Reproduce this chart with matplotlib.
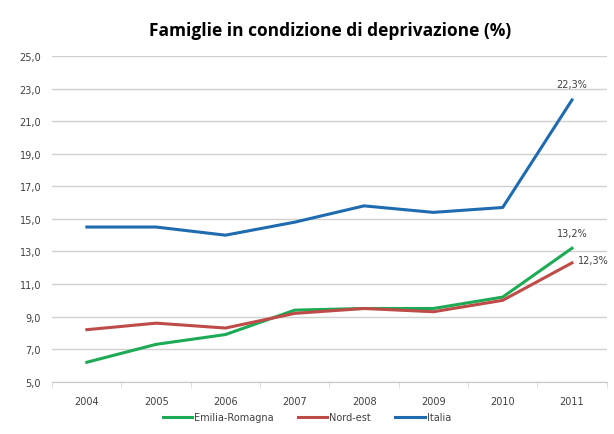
import matplotlib.pyplot as plt
import numpy as np

years = ["2004", "2005", "2006", "2007", "2008", "2009", "2010", "2011"]
emilia = [6.2, 7.3, 7.9, 9.4, 9.5, 9.5, 10.2, 13.2]
nordest = [8.2, 8.6, 8.3, 9.2, 9.5, 9.3, 10.0, 12.3]
italia = [14.5, 14.5, 14.0, 14.8, 15.8, 15.4, 15.7, 22.3]
y_ticks = np.arange(5, 26, 2)

fig = plt.figure(figsize=(6.14, 4.35), dpi=100)
ax = fig.add_axes([0.085, 0.12, 0.903, 0.749])

x = np.arange(len(years))
ax.plot(x, emilia, color="#1DAA55", lw=2.2, label="Emilia-Romagna")
ax.plot(x, nordest, color="#BE4B48", lw=2.2, label="Nord-est")
ax.plot(x, italia, color="#1F6BB0", lw=2.2, label="Italia")

ax.set_xlim(-0.5, len(years) - 0.5)
ax.set_ylim(5, 25)
ax.set_yticks(y_ticks)
ax.set_yticklabels([f"{v:.1f}".replace(".", ",") for v in y_ticks])
ax.set_xticks(x)
ax.set_xticklabels(years)
ax.set_xticks(np.arange(-0.5, len(years), 1), minor=True)
ax.tick_params(axis="x", which="major", length=0, pad=10, labelsize=7, labelcolor="#404040")
ax.tick_params(axis="x", which="minor", length=4, color="#d8d8d8")
ax.tick_params(axis="y", length=0, pad=8, labelsize=7, labelcolor="#404040")
ax.grid(axis="y", color="#d0d0d0", lw=1)
ax.set_axisbelow(True)
for s in ["top", "right", "left"]:
    ax.spines[s].set_visible(False)
ax.spines["bottom"].set_color("#c8c8c8")

last = len(years) - 1
ax.annotate("22,3%", (last, italia[-1]), xytext=(0, 9), textcoords="offset points",
            ha="center", fontsize=7, color="#404040")
ax.annotate("13,2%", (last, emilia[-1]), xytext=(0, 9), textcoords="offset points",
            ha="center", fontsize=7, color="#404040")
ax.annotate("12,3%", (last, nordest[-1]), xytext=(4, 2), textcoords="offset points",
            ha="left", va="center", fontsize=7, color="#404040")

fig.text(0.537, 0.928, "Famiglie in condizione di deprivazione (%)", ha="center", va="center",
         fontsize=12.5, fontweight="bold", family="Open Sans")
fig.legend(loc="center", bbox_to_anchor=(0.5, 0.038), ncol=3, frameon=False, fontsize=7,
           handlelength=3, columnspacing=2.5, handletextpad=0.2,
           labelcolor="#404040")

fig.savefig("out.png", dpi=100)
